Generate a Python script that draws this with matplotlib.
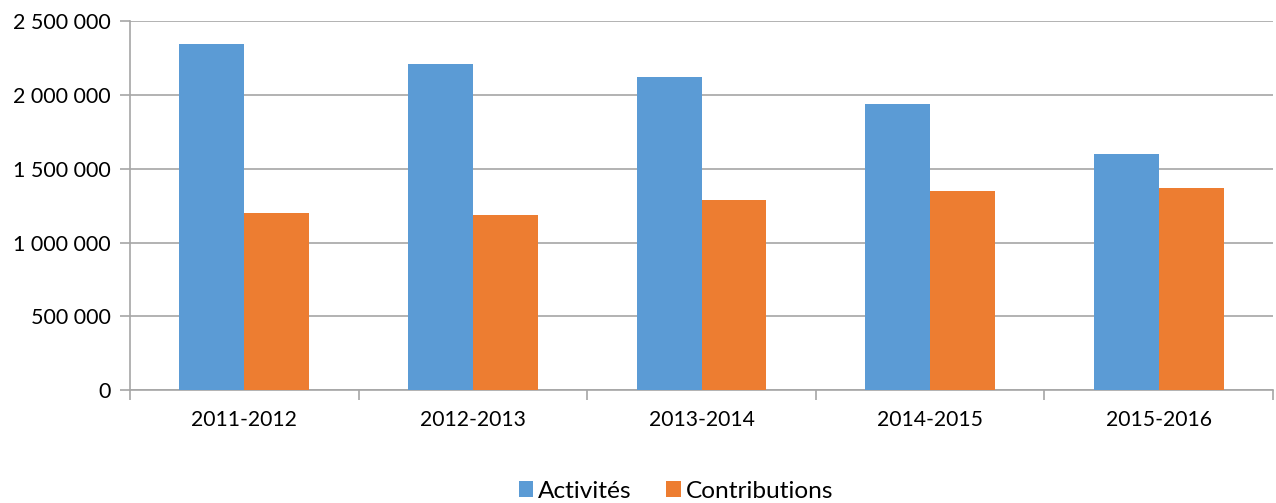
import matplotlib
matplotlib.use('Agg')
import matplotlib.pyplot as plt
import numpy as np
from matplotlib.ticker import FuncFormatter, FixedLocator

years = ['2011-2012', '2012-2013', '2013-2014', '2014-2015', '2015-2016']
activites = [2343000, 2210000, 2118000, 1935000, 1603000]
contributions = [1197000, 1190000, 1285000, 1352000, 1367000]

plt.rcParams['font.family'] = ['Lato', 'DejaVu Sans']

fig = plt.figure(figsize=(12.76, 5.03), dpi=100)
ax = fig.add_axes([130 / 1276, 1 - 390.3 / 503, 1143 / 1276, 369.3 / 503])

x = np.arange(len(years))
w = 0.284
ax.bar(x - w / 2, activites, w, color='#5B9BD5', label='Activités', zorder=3)
ax.bar(x + w / 2, contributions, w, color='#ED7D31', label='Contributions', zorder=3)

ax.set_xlim(-0.5, len(years) - 0.5)
ax.set_ylim(0, 2500000)
ax.set_yticks(np.arange(0, 2500001, 500000))
ax.yaxis.set_major_formatter(FuncFormatter(lambda v, p: f'{int(v):,}'.replace(',', ' ')))
ax.set_xticks(x)
ax.set_xticklabels(years)
ax.xaxis.set_minor_locator(FixedLocator(np.arange(-0.5, len(years), 1)))

ax.grid(axis='y', color='#A6A6A6', linewidth=1.2, zorder=0)
for s in ['top', 'right']:
    ax.spines[s].set_visible(False)
ax.spines['left'].set_color('#A6A6A6')
ax.spines['bottom'].set_color('#A6A6A6')
ax.spines['left'].set_linewidth(1.2)
ax.spines['bottom'].set_linewidth(1.2)

ax.tick_params(axis='y', length=7, color='#A6A6A6', width=1.2, labelsize=15.5, pad=7)
ax.tick_params(axis='x', which='major', length=0, labelsize=15.2, pad=14)
ax.tick_params(axis='x', which='minor', length=7, color='#A6A6A6', width=1.2)

ax.legend(loc='center', bbox_to_anchor=(676 / 1276, 1 - 491 / 503), bbox_transform=fig.transFigure,
          ncol=2, frameon=False, fontsize=17.6, handlelength=0.6, handleheight=0.6,
          handletextpad=0.2, columnspacing=1.4)

fig.savefig('out.png', dpi=100)
